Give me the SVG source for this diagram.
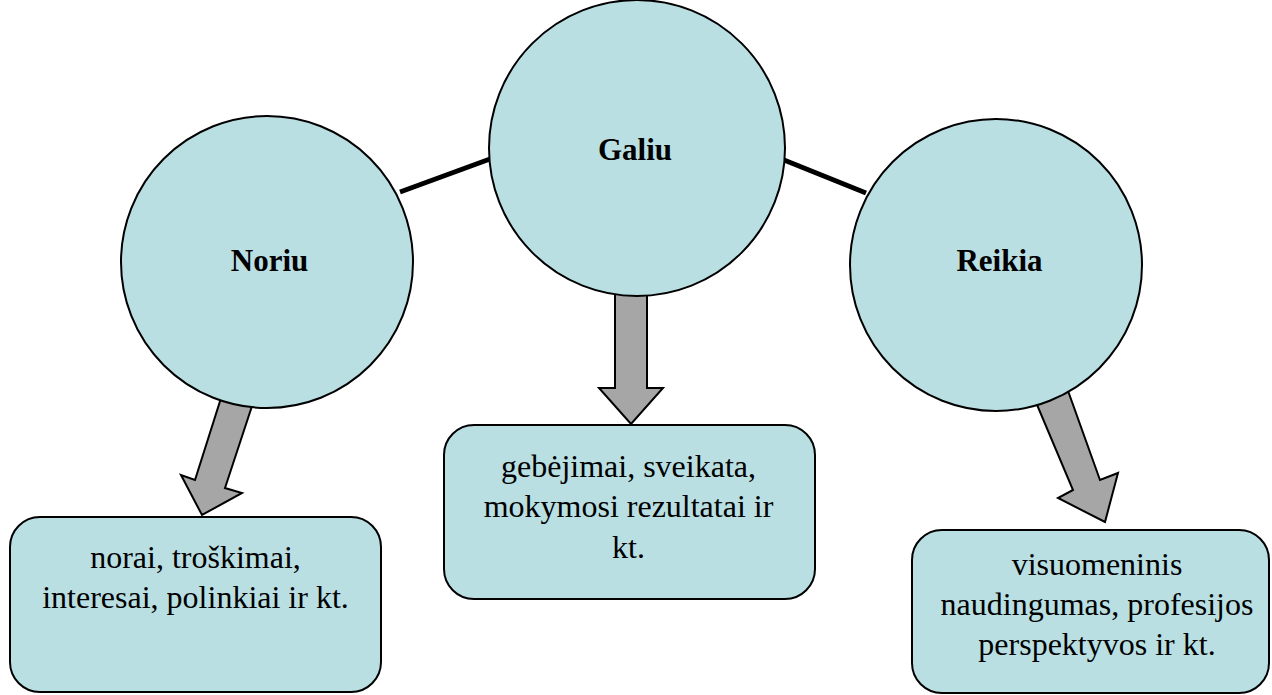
<svg xmlns="http://www.w3.org/2000/svg" width="1272" height="695" viewBox="0 0 1272 695">
  <style>
    .circle { fill: #b9dfe3; stroke: #000; stroke-width: 2; }
    .box { fill: #b9dfe3; stroke: #000; stroke-width: 2; }
    .arrow { fill: #a6a6a6; stroke: #000; stroke-width: 2; stroke-linejoin: miter; }
    .link { stroke: #000; stroke-width: 5; fill: none; }
  </style>
  <rect width="1272" height="695" fill="#fff"/>

  <!-- lines joining the circles -->
  <g id="connectors">
    <line class="link" x1="400" y1="192" x2="490" y2="159"/>
    <line class="link" x1="784" y1="160" x2="866" y2="193"/>
  </g>

  <!-- block arrows from circles to boxes -->
  <g id="arrows">
    <polygon class="arrow" points="222,395 253,403 225,488 242,493 202,515 181,475 195,480"/>
    <polygon class="arrow" points="615,288 647,288 647,388 663,388 631,424 599,388 615,388"/>
    <polygon class="arrow" points="1035,400 1067,388 1100,480 1118,473 1105,522 1058,498 1073,490"/>
  </g>

  <g font-family="Liberation Serif, Times New Roman, serif" font-size="32" text-anchor="middle" fill="#000">
    <g id="node-noriu">
      <circle class="circle" cx="267" cy="262" r="146"/>
      <text x="269.5" y="271" font-weight="bold" font-size="31">Noriu</text>
    </g>
    <g id="node-galiu">
      <circle class="circle" cx="637" cy="148" r="148"/>
      <text x="635" y="160" font-weight="bold" font-size="31">Galiu</text>
    </g>
    <g id="node-reikia">
      <circle class="circle" cx="996" cy="265" r="146"/>
      <text x="999.5" y="271" font-weight="bold" font-size="31">Reikia</text>
    </g>

    <g id="box-noriu">
      <rect class="box" x="10" y="517" width="371" height="175" rx="30"/>
      <text x="195.5" y="568">norai, troškimai,</text>
      <text x="195.5" y="608">interesai, polinkiai ir kt.</text>
    </g>
    <g id="box-galiu">
      <rect class="box" x="444" y="425" width="371" height="174" rx="30"/>
      <text x="628.5" y="477">gebėjimai, sveikata,</text>
      <text x="628.5" y="517">mokymosi rezultatai ir</text>
      <text x="628.5" y="558">kt.</text>
    </g>
    <g id="box-reikia">
      <rect class="box" x="912" y="530" width="357" height="163" rx="30"/>
      <text x="1097" y="575">visuomeninis</text>
      <text x="1097" y="615">naudingumas, profesijos</text>
      <text x="1097" y="655">perspektyvos ir kt.</text>
    </g>
  </g>
</svg>
